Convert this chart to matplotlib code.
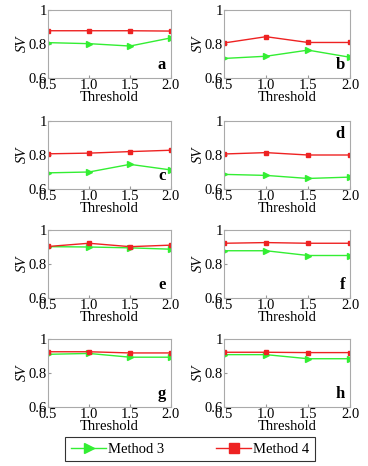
import numpy as np
from matplotlib import pyplot as plt
from matplotlib.lines import Line2D

thresholds = [0.5, 1.0, 1.5, 2.0]
panel_labels = ['a', 'b', 'c', 'd', 'e', 'f', 'g', 'h']

method3 = [
    [0.808, 0.802, 0.788, 0.836],
    [0.715, 0.728, 0.764, 0.722],
    [0.695, 0.700, 0.745, 0.712],
    [0.686, 0.680, 0.662, 0.670],
    [0.902, 0.900, 0.895, 0.887],
    [0.878, 0.878, 0.850, 0.850],
    [0.910, 0.915, 0.893, 0.893],
    [0.908, 0.908, 0.884, 0.884],
]
method4 = [
    [0.878, 0.878, 0.878, 0.876],
    [0.806, 0.843, 0.809, 0.809],
    [0.807, 0.811, 0.820, 0.828],
    [0.806, 0.814, 0.800, 0.800],
    [0.903, 0.922, 0.902, 0.911],
    [0.922, 0.926, 0.922, 0.922],
    [0.925, 0.925, 0.918, 0.918],
    [0.922, 0.922, 0.920, 0.920],
]

plt.rcParams['font.family'] = ['Liberation Serif', 'DejaVu Serif']
green = '#33ee33'
red = '#ee2222'

W, H = 368, 466
fig = plt.figure(figsize=(W / 100, H / 100), dpi=100)

lefts = [48, 224]
widths = [123, 126]
tops = [10, 121, 230, 339]
h = 68

for i in range(8):
    r, c = divmod(i, 2)
    ax = fig.add_axes([lefts[c] / W, 1 - (tops[r] + h) / H, widths[c] / W, h / H])
    ax.plot(thresholds, method3[i], color=green, marker='>', markersize=4, lw=1)
    ax.plot(thresholds, method4[i], color=red, marker='s', markersize=3.5, lw=1)
    ax.set_xlim(0.5, 2.0)
    ax.set_ylim(0.6, 1.0)
    ax.set_xticks(thresholds)
    ax.set_xticklabels(['0.5', '1.0', '1.5', '2.0'])
    ax.set_yticks([0.6, 0.8, 1.0])
    ax.set_yticklabels(['0.6', '0.8', '1'])
    ax.tick_params(direction='in', length=2, labelsize=10.5, pad=1, color='#999999')
    for s in ax.spines.values():
        s.set_color('#aaaaaa')
        s.set_linewidth(0.8)
    ax.set_xlabel('Threshold', fontsize=10.5, labelpad=-1)
    ax.set_ylabel('SV', fontsize=10.5, style='italic', labelpad=0)
    if panel_labels[i] == 'd':
        ax.text(0.96, 0.93, 'd', transform=ax.transAxes, ha='right', va='top',
                fontsize=12, fontweight='bold')
    else:
        ax.text(0.96, 0.07, panel_labels[i], transform=ax.transAxes, ha='right',
                va='bottom', fontsize=12, fontweight='bold')

handles = [
    Line2D([], [], color=green, marker='>', markersize=7, lw=1, label='Method 3'),
    Line2D([], [], color=red, marker='s', markersize=7, lw=1, label='Method 4'),
]
leg = fig.legend(handles=handles, loc='center', bbox_to_anchor=(190 / W, 1 - 449 / H),
                 ncol=2, fontsize=10.5, frameon=True, fancybox=False, edgecolor='black',
                 handlelength=2.4, columnspacing=3.6, borderpad=0.4, handletextpad=0.1)
leg.get_frame().set_linewidth(0.8)

fig.savefig('out.png', dpi=100)
